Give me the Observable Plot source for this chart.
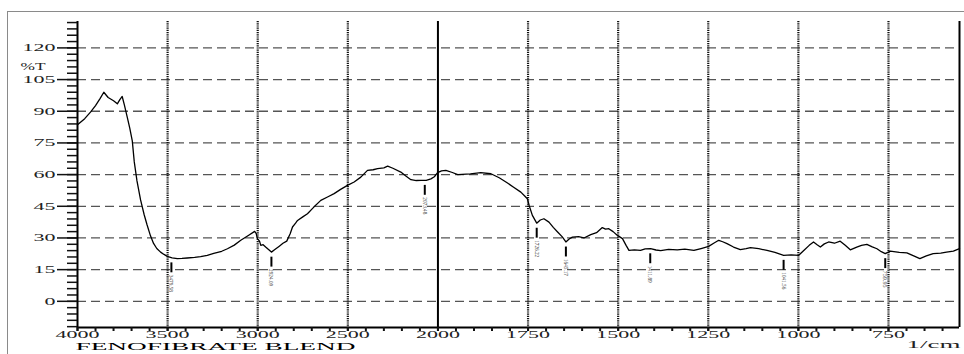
<!DOCTYPE html>
<html>
<head>
<meta charset="utf-8">
<script src="https://cdn.jsdelivr.net/npm/d3@7"></script>
<script src="https://cdn.jsdelivr.net/npm/@observablehq/plot@0.6"></script>
<style>
  html, body { margin: 0; padding: 0; background: white; }
  #wrap { position: relative; width: 964px; height: 354px; overflow: hidden; }
  #border { position: absolute; left: 7px; top: 11px; width: 970px; height: 360px; border: 1px solid #8a8a8a; box-sizing: border-box; pointer-events: none; }
</style>
</head>
<body>
<div id="wrap"><div id="border"></div></div>
<script>
// Wavenumber (1/cm) and transmittance (%T)
const wavenumber = [4000,3960,3928,3900,3875,3854,3830,3800,3779,3765,3752,3740,3724,3710,3696,3685,3670,3650,3630,3615,3595,3578,3560,3539,3520,3502,3475,3446,3420,3391,3350,3317,3280,3244,3200,3168,3130,3094,3050,3017,3008,3002,2990,2983,2970,2956,2940,2924,2905,2882,2860,2839,2820,2807,2790,2779,2750,2724,2690,2650,2610,2576,2540,2502,2465,2428,2391,2360,2335,2300,2279,2250,2206,2180,2150,2120,2094,2065,2039,2020,2002,1990,1978,1960,1945,1910,1881,1853,1830,1807,1790,1770,1760,1752,1747,1738,1726,1716,1706,1692,1680,1668,1655,1645,1636,1627,1610,1595,1576,1560,1544,1535,1526,1514,1502,1488,1478,1470,1455,1438,1425,1410,1395,1382,1360,1336,1315,1290,1270,1249,1235,1221,1210,1198,1180,1161,1145,1133,1110,1087,1065,1041,1020,999,985,970,958,948,939,928,916,900,884,870,856,838,825,810,795,782,770,759,745,720,699,680,663,645,626,605,589,570,553];
const transmittance = [83.6,86.5,89.6,92.7,96,99,96.5,95,93.5,95.5,97,93,87.2,82,76,66,57,48,41,36.5,31,27.4,25,23.3,22.2,21.3,20.6,20.2,20.3,20.5,20.8,21.2,21.8,22.7,23.7,24.9,26.6,28.9,31.3,33.1,32,29.7,28.5,26.5,26.8,25.7,24.5,23.3,24.5,26,27.5,28.5,32,35.2,37,38.3,40,41.5,44.5,47.8,49.5,51,53,54.9,56.5,58.8,62,62.3,62.8,63.2,64,63,61.2,59.5,57.6,57.2,57.3,57.3,58,59,60.9,61.8,62,61,60,60.3,60.9,60.4,58.5,56,54,51.7,50,48.6,45.4,40.7,37,38.5,39.1,37.5,35,32.8,30.5,28.1,29.5,30.4,30.6,30,31.6,32.5,34.9,34.2,34.4,33,31.2,29.7,26.5,24.1,24.4,24.1,24.8,24.9,24.3,24,24.6,24.4,24.7,24.1,25,26,27.5,28.9,28.2,27.3,25.7,24.5,24.9,25.4,24.9,24.1,23.2,21.8,22,21.8,24.1,26.5,28.1,26.8,25.7,27.2,28.1,27.5,28.5,26.5,24.4,25.7,26.5,27,25.8,24.9,23.5,22.6,23.8,23.2,22.9,21.5,20.2,21.5,22.6,22.8,23.3,23.8,24.9];

// Peak picks
const peakWavenumber = [3479, 2924, 2073, 1726, 1645, 1411, 1041, 759];
const peakTransmittance = [20.6, 23.3, 57.3, 37, 28.1, 24.9, 21.8, 22.6];
const peakLabels = ["3479.58", "2924.09", "2073.48", "1726.22", "1645.17", "1411.89", "1041.56", "759.95"];

// Axes
const xEnds = [4000, 553];
const xBreak = 2000;              // scale changes from 500 to 250 per grid cell
const yDomain = [-12.4, 132.5];
const xTickLabels = [4000, 3500, 3000, 2500, 2000, 1750, 1500, 1250, 1000, 750];
const xDottedGrid = [3500, 3000, 2500, 1750, 1500, 1250, 1000, 750];
const xSolidGrid = [2000];
const xMinorTicks = [...d3.range(4000, 2000, -100), ...d3.range(2000, 553, -50)];
const yTickLabels = [0, 15, 30, 45, 60, 75, 90, 105, 120];
const yMinorTicks = d3.range(-12, 133, 3);

// piecewise wavenumber <-> grid-cell units (one cell = 500 above 2000, 250 below)
const toCells = w => w >= xBreak ? (4000 - w) / 500 : 4 + (xBreak - w) / 250;
const fromCells = c => Math.round(c <= 4 ? 4000 - c * 500 : xBreak - (c - 4) * 250);

const spectrum = wavenumber.map((w, i) => ({w, t: transmittance[i]}));
const peaks = peakWavenumber.map((w, i) => ({w, t: peakTransmittance[i], label: peakLabels[i]}));

const svg = Plot.plot({
  width: 964,
  height: 354,
  marginLeft: 77,
  marginRight: 5,
  marginTop: 21,
  marginBottom: 27,
  style: {fontFamily: "'Liberation Serif', serif", background: "transparent", color: "#111"},
  x: {transform: toCells, domain: [toCells(xEnds[0]), toCells(xEnds[1])]},
  y: {domain: yDomain},
  marks: [
    Plot.ruleY(yTickLabels, {stroke: "#555", strokeWidth: 1.3, strokeDasharray: "9,5"}),
    Plot.ruleX(xDottedGrid, {stroke: "#111", strokeWidth: 2.2, strokeDasharray: "1.2,1"}),
    Plot.ruleX(xSolidGrid, {stroke: "#000", strokeWidth: 2}),
    Plot.ruleX(xEnds, {stroke: "#000", strokeWidth: 2}),
    Plot.ruleY([yDomain[0]], {stroke: "#000", strokeWidth: 2}),
    Plot.axisY({ticks: yMinorTicks, tickSize: 10, tickFormat: () => "", label: null, strokeWidth: 1.5}),
    Plot.axisY({ticks: yTickLabels, tickSize: 20, tickPadding: 2, label: null, fontSize: 11, strokeWidth: 1.5, fill: "#222"}),
    Plot.axisX({ticks: xMinorTicks.map(toCells), tickSize: 4, tickFormat: () => "", label: null, strokeWidth: 2}),
    Plot.axisX({ticks: xTickLabels.map(toCells), tickSize: 4, tickPadding: 0, label: null, fontSize: 9.5, strokeWidth: 2, tickFormat: c => String(fromCells(c)), fill: "#222"}),
    Plot.line(spectrum, {x: "w", y: "t", stroke: "#000", strokeWidth: 1.3}),
    Plot.ruleX(peaks, {x: "w", y1: d => d.t - 2.4, y2: d => d.t - 7.1, stroke: "#000", strokeWidth: 2}),
    Plot.text(peaks, {x: "w", y: "t", text: "label", rotate: 90, dy: 17, textAnchor: "start", fontSize: 6.5, fill: "#444"}),
    Plot.text(["%T"], {frameAnchor: "top-left", dx: -32, dy: 41, textAnchor: "end", fontSize: 11, fill: "#222"}),
    Plot.text(["FENOFIBRATE BLEND"], {frameAnchor: "bottom-left", dx: -2, dy: 22, textAnchor: "start", fontSize: 10, fill: "#000"}),
    Plot.text(["1/cm"], {frameAnchor: "bottom-right", dx: 1, dy: 20.5, textAnchor: "end", fontSize: 10, fill: "#222"})
  ]
});

// Widen the printout-style lettering
const stretch = {"%T": 25, "FENOFIBRATE BLEND": 280, "1/cm": 54};
svg.querySelectorAll("text").forEach(t => {
  const s = t.textContent.trim();
  if (!s) return;
  let len = null;
  if (stretch[s] !== undefined) len = stretch[s];
  else if (/^\d+$/.test(s)) len = s.length * 11;
  else if (/^\d+\.\d+$/.test(s)) len = 17;
  if (len) {
    t.setAttribute("textLength", len);
    t.setAttribute("lengthAdjust", "spacingAndGlyphs");
  }
});

svg.style.position = "absolute";
svg.style.left = "0";
svg.style.top = "0";
document.getElementById("wrap").prepend(svg);
</script>
</body>
</html>
